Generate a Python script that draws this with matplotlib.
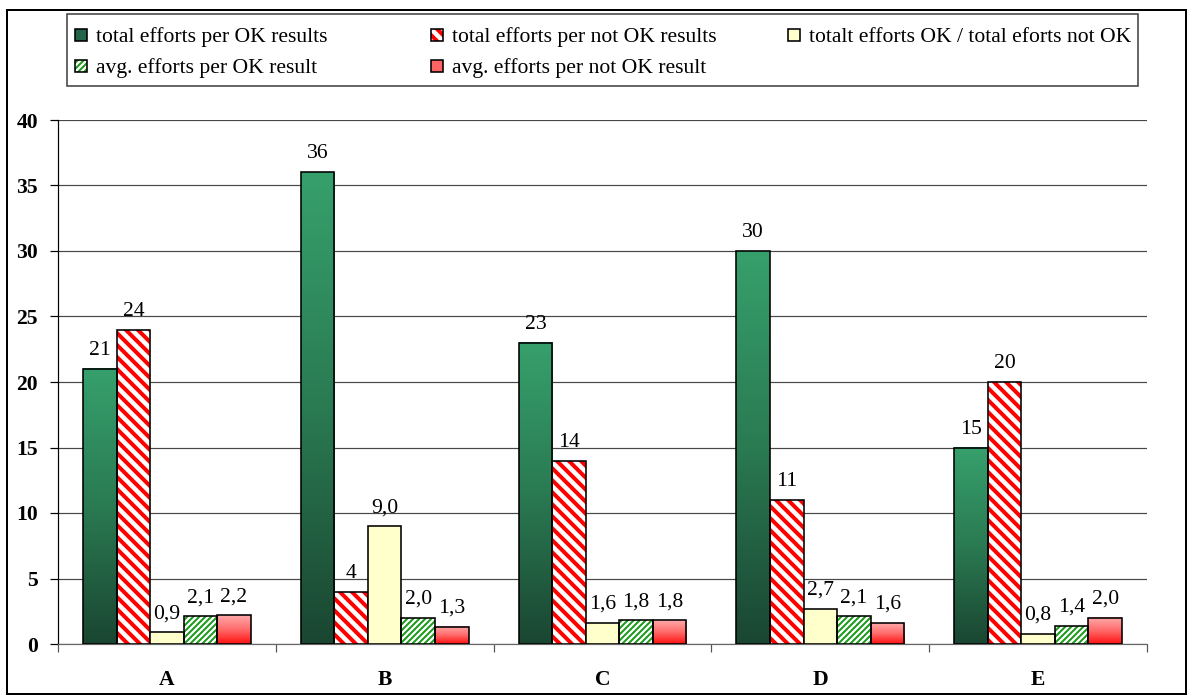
import numpy as np
import matplotlib
matplotlib.use("Agg")
import matplotlib.pyplot as plt
from matplotlib.patches import Rectangle
from matplotlib.colors import LinearSegmentedColormap

plt.rcParams['font.family'] = ['Liberation Serif', 'DejaVu Serif']

# data
categories = ['A', 'B', 'C', 'D', 'E']
total_ok = [21, 36, 23, 30, 15]
total_not_ok = [24, 4, 14, 11, 20]
ratio_ok_not_ok = [0.9, 9.0, 1.6, 2.7, 0.8]
avg_ok = [2.1, 2.0, 1.8, 2.1, 1.4]
avg_not_ok = [2.2, 1.3, 1.8, 1.6, 2.0]
series_names = ['total efforts per OK results',
                'total efforts per not OK results',
                'totalt efforts OK / total eforts not OK',
                'avg. efforts per OK result',
                'avg. efforts per not OK result']

W, H = 1194, 698
DPI = 144
FS = 10.8
fig = plt.figure(figsize=(W / DPI, H / DPI), dpi=DPI)
fig.patch.set_facecolor('white')
ax = fig.add_axes([58 / W, 1 - 644 / H, (1147 - 58) / W, (644 - 120) / H])

x = np.arange(len(categories))
bw = 0.154
green_cmap = LinearSegmentedColormap.from_list('g', ['#1a4631', '#2a7a52', '#36a06c'])
red_cmap = LinearSegmentedColormap.from_list('r', ['#ff1010', '#ff6a6a', '#ffaaaa'])
grad = np.linspace(0, 1, 256).reshape(-1, 1)

RED_HATCH = '\\' * 4
GREEN_HATCH = '/' * 8


def gradient_bars(xs, vals, cmap):
    for xc, v in zip(xs, vals):
        ax.imshow(grad, extent=(xc - bw / 2, xc + bw / 2, 0, v), origin='lower',
                  aspect='auto', cmap=cmap, zorder=2, interpolation='bilinear')
    ax.bar(xs, vals, bw, fill=False, edgecolor='black', linewidth=0.8, zorder=3)


def hatched_bars(xs, vals, color, hatch, hlw):
    with plt.rc_context({'hatch.linewidth': hlw, 'hatch.color': color}):
        bars = ax.bar(xs, vals, bw, color='white', edgecolor=color, hatch=hatch,
                      linewidth=0, zorder=2)
        for b in bars:
            if hasattr(b, 'set_hatch_linewidth'):
                b.set_hatch_linewidth(hlw)
    ax.bar(xs, vals, bw, fill=False, edgecolor='black', linewidth=0.8, zorder=3)


gradient_bars(x - 2 * bw, total_ok, green_cmap)
hatched_bars(x - bw, total_not_ok, '#ff0000', RED_HATCH, 2.0)
ax.bar(x, ratio_ok_not_ok, bw, color='#ffffcc', edgecolor='black', linewidth=0.8, zorder=3)
hatched_bars(x + bw, avg_ok, '#1a9a1a', GREEN_HATCH, 1.0)
gradient_bars(x + 2 * bw, avg_not_ok, red_cmap)

# value labels
for off, vals, fmt in [(-2, total_ok, '{:.0f}'), (-1, total_not_ok, '{:.0f}'),
                       (0, ratio_ok_not_ok, '{:.1f}'), (1, avg_ok, '{:.1f}'),
                       (2, avg_not_ok, '{:.1f}')]:
    for xc, v in zip(x + off * bw, vals):
        ax.annotate(fmt.format(v).replace('.', ','), (xc, v), xytext=(0, 7),
                    textcoords='offset points', ha='center', va='baseline',
                    fontsize=FS, zorder=4)

ax.set_xlim(-0.5, 4.5)
ax.set_ylim(0, 40)
ax.set_yticks(np.arange(0, 41, 5))
ax.yaxis.grid(True, color='#484848', linewidth=0.6)
ax.set_axisbelow(True)
for lbl in ax.get_yticklabels():
    lbl.set_fontweight('bold')
ax.tick_params(axis='y', direction='out', length=4, width=0.6, pad=6, labelsize=FS)

ax.set_xticks(np.arange(-0.5, 5, 1))
ax.set_xticklabels([])
ax.set_xticks(x, minor=True)
ax.set_xticklabels(categories, minor=True, fontweight='bold', fontsize=FS)
ax.tick_params(axis='x', which='major', direction='out', length=4, width=0.6, color='#555555')
ax.tick_params(axis='x', which='minor', length=0, pad=13)

for s in ['top', 'right']:
    ax.spines[s].set_visible(False)
ax.spines['left'].set_linewidth(0.6)
ax.spines['bottom'].set_linewidth(0.6)
ax.spines['bottom'].set_color('#666666')


# legend box drawn in figure pixels
def fx(px):
    return px / W


def fy(py):
    return 1 - py / H


fig.add_artist(Rectangle((fx(67), fy(86)), fx(1138) - fx(67), fy(14) - fy(86),
                         transform=fig.transFigure, facecolor='white',
                         edgecolor='#444444', linewidth=0.8, zorder=5))

entries = [
    (75, 35, series_names[0], dict(facecolor='#24654a')),
    (431, 35, series_names[1], dict(facecolor='white', hatch=RED_HATCH, hatch_c='#ff0000', hlw=2.0)),
    (788, 35, series_names[2], dict(facecolor='#ffffcc')),
    (75, 66, series_names[3], dict(facecolor='white', hatch=GREEN_HATCH, hatch_c='#1a9a1a', hlw=1.0)),
    (431, 66, series_names[4], dict(facecolor='#ff6464')),
]
for px, py, name, st in entries:
    sz = 12
    if 'hatch' in st:
        with plt.rc_context({'hatch.linewidth': st['hlw']}):
            hp = Rectangle((fx(px), fy(py + sz / 2)), fx(sz), sz / H,
                           transform=fig.transFigure, facecolor='white',
                           edgecolor=st['hatch_c'], hatch=st['hatch'],
                           linewidth=0, zorder=6)
            if hasattr(hp, 'set_hatch_linewidth'):
                hp.set_hatch_linewidth(st['hlw'])
        fig.add_artist(hp)
        fig.add_artist(Rectangle((fx(px), fy(py + sz / 2)), fx(sz), sz / H,
                                 transform=fig.transFigure, fill=False,
                                 edgecolor='black', linewidth=0.8, zorder=7))
    else:
        fig.add_artist(Rectangle((fx(px), fy(py + sz / 2)), fx(sz), sz / H,
                                 transform=fig.transFigure, facecolor=st['facecolor'],
                                 edgecolor='black', linewidth=0.8, zorder=7))
    fig.text(fx(px + 21), fy(py + 7), name, fontsize=FS, va='baseline',
             ha='left', zorder=8)

# outer frame
fig.add_artist(Rectangle((fx(7), fy(694)), fx(1186) - fx(7), fy(10) - fy(694),
                         transform=fig.transFigure, fill=False,
                         edgecolor='black', linewidth=1.0, zorder=9))

fig.savefig('out.png', dpi=DPI)
